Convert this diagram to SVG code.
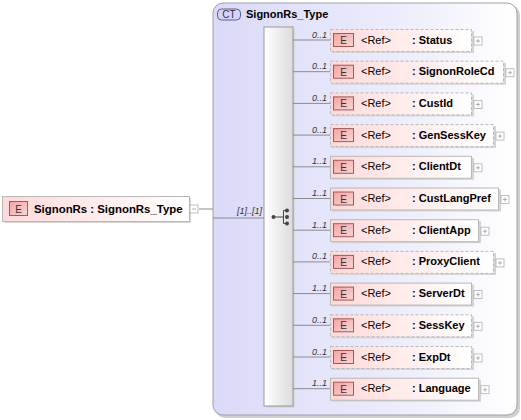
<svg xmlns="http://www.w3.org/2000/svg" width="521" height="420" viewBox="0 0 521 420">
<defs>
<linearGradient id="gEl" x1="0" y1="0" x2="1" y2="0"><stop offset="0" stop-color="#ffd9d9"/><stop offset="1" stop-color="#ffffff"/></linearGradient>
<linearGradient id="gBadge" x1="0" y1="0" x2="1" y2="1"><stop offset="0" stop-color="#f4a4a4"/><stop offset="1" stop-color="#fbd4d4"/></linearGradient>
<linearGradient id="gCT" x1="0" y1="0" x2="1" y2="0"><stop offset="0" stop-color="#dadaf8"/><stop offset="0.6" stop-color="#ececfc"/><stop offset="1" stop-color="#ffffff"/></linearGradient>
<linearGradient id="gSeq" x1="0" y1="0" x2="1" y2="0"><stop offset="0" stop-color="#ffffff"/><stop offset="1" stop-color="#dcdcdc"/></linearGradient>
<g id="plus"><rect x="0" y="-4" width="8" height="8" fill="#fff" stroke="#b0b0b0" stroke-width="0.8"/><path d="M2,0H6M4,-2V2" stroke="#a0a0a0" stroke-width="0.8"/></g>
<g id="minus"><rect x="0" y="-4" width="8" height="8" fill="#fff" stroke="#b0b0b0" stroke-width="0.8"/><path d="M2,0H6" stroke="#a0a0a0" stroke-width="0.8"/></g>
</defs>
<style>
.box{fill:url(#gEl);stroke:#b8b8b8;stroke-width:1}
.opt{stroke-dasharray:3,2}
.sh{fill:#d4d4d4}
.badge{fill:url(#gBadge);stroke:#a05a5a;stroke-width:1}
.bt{font:10px "Liberation Sans",Arial,sans-serif;fill:#333;text-anchor:middle}
.ref{font:11px "Liberation Sans",Arial,sans-serif;fill:#000}
.nm{font:bold 11px "Liberation Sans",Arial,sans-serif;fill:#000}
.mult{font:italic 9px "Liberation Sans",Arial,sans-serif;fill:#333;text-anchor:end}
.ln{stroke:#8c8c8c;stroke-width:1;fill:none}
</style>

<g id="SignonRs_Type">
<rect x="215" y="5" width="305" height="413" rx="10" fill="#d0d0d0"/>
<rect x="213" y="3" width="304" height="412" rx="10" fill="url(#gCT)" stroke="#a0a0a8" stroke-width="1"/>
<rect x="217.5" y="9" width="23" height="11" rx="4" fill="#d4d4fa" stroke="#5c5c96" stroke-width="1"/>
<text x="229" y="18" class="bt" style="fill:#333">CT</text>
<text x="246" y="17.5" class="nm">SignonRs_Type</text>
</g>

<g id="sequence">
<rect x="265.5" y="28.5" width="29" height="379" fill="#cfcfcf"/>
<rect x="264" y="27" width="29" height="379" fill="url(#gSeq)" stroke="#9a9a9a" stroke-width="1"/>
<g fill="#444" stroke="#444" stroke-width="1">
<circle cx="273.5" cy="217" r="2" stroke="none"/>
<path d="M273.5,217H284M283.5,210.5V223.5M283.5,210.5H287M283.5,223.5H287" fill="none"/>
<circle cx="287" cy="210.5" r="2" stroke="none"/>
<circle cx="287" cy="217" r="2" stroke="none"/>
<circle cx="287" cy="223.5" r="2" stroke="none"/>
</g>
</g>

<g id="connectors">
<path class="ln" d="M199,209H213M213,218H264"/>
<text x="262" y="213.5" class="mult">[1]..[1]</text>
<path class="ln" d="M293,40H330M293,71.7H330M293,103.4H330M293,135.1H330M293,166.8H330M293,198.5H330M293,230.2H330M293,261.9H330M293,293.6H330M293,325.3H330M293,357H330M293,388.7H330"/>
</g>

<g id="SignonRs">
<rect x="4" y="198" width="187" height="25" class="sh"/>
<rect x="2.5" y="196.5" width="187" height="25" class="box"/>
<rect x="9.5" y="201.5" width="18" height="14" class="badge"/>
<text x="18.5" y="212.5" class="bt">E</text>
<text x="34" y="213" class="nm" style="font-size:11.4px">SignonRs : SignonRs_Type</text>
<use href="#minus" x="190" y="209"/>
</g>

<g id="Status" transform="translate(0,29)">
<text x="327" y="8.5" class="mult">0..1</text>
<rect x="332" y="2" width="142" height="22" class="sh"/>
<rect x="330.5" y="0.5" width="141" height="22" class="box opt"/>
<rect x="333.5" y="4.5" width="20" height="13" class="badge"/><text x="343.5" y="15" class="bt">E</text>
<text x="361" y="14.5" class="ref">&lt;Ref&gt;</text><text x="412" y="14.5" class="nm">: Status</text>
<use href="#plus" x="474" y="12"/>
</g>
<g id="SignonRoleCd" transform="translate(0,60.7)">
<text x="327" y="8.5" class="mult">0..1</text>
<rect x="332" y="2" width="174" height="22" class="sh"/>
<rect x="330.5" y="0.5" width="173" height="22" class="box opt"/>
<rect x="333.5" y="4.5" width="20" height="13" class="badge"/><text x="343.5" y="15" class="bt">E</text>
<text x="361" y="14.5" class="ref">&lt;Ref&gt;</text><text x="412" y="14.5" class="nm">: SignonRoleCd</text>
<use href="#plus" x="506" y="12"/>
</g>
<g id="CustId" transform="translate(0,92.4)">
<text x="327" y="8.5" class="mult">0..1</text>
<rect x="332" y="2" width="142" height="22" class="sh"/>
<rect x="330.5" y="0.5" width="141" height="22" class="box opt"/>
<rect x="333.5" y="4.5" width="20" height="13" class="badge"/><text x="343.5" y="15" class="bt">E</text>
<text x="361" y="14.5" class="ref">&lt;Ref&gt;</text><text x="412" y="14.5" class="nm">: CustId</text>
<use href="#plus" x="474" y="12"/>
</g>
<g id="GenSessKey" transform="translate(0,124.1)">
<text x="327" y="8.5" class="mult">0..1</text>
<rect x="332" y="2" width="164" height="22" class="sh"/>
<rect x="330.5" y="0.5" width="163" height="22" class="box opt"/>
<rect x="333.5" y="4.5" width="20" height="13" class="badge"/><text x="343.5" y="15" class="bt">E</text>
<text x="361" y="14.5" class="ref">&lt;Ref&gt;</text><text x="412" y="14.5" class="nm">: GenSessKey</text>
<use href="#plus" x="496" y="12"/>
</g>
<g id="ClientDt" transform="translate(0,155.8)">
<text x="327" y="8.5" class="mult">1..1</text>
<rect x="332" y="2" width="142" height="22" class="sh"/>
<rect x="330.5" y="0.5" width="141" height="22" class="box"/>
<rect x="333.5" y="4.5" width="20" height="13" class="badge"/><text x="343.5" y="15" class="bt">E</text>
<text x="361" y="14.5" class="ref">&lt;Ref&gt;</text><text x="412" y="14.5" class="nm">: ClientDt</text>
<use href="#plus" x="474" y="12"/>
</g>
<g id="CustLangPref" transform="translate(0,187.5)">
<text x="327" y="8.5" class="mult">1..1</text>
<rect x="332" y="2" width="169" height="22" class="sh"/>
<rect x="330.5" y="0.5" width="168" height="22" class="box"/>
<rect x="333.5" y="4.5" width="20" height="13" class="badge"/><text x="343.5" y="15" class="bt">E</text>
<text x="361" y="14.5" class="ref">&lt;Ref&gt;</text><text x="412" y="14.5" class="nm">: CustLangPref</text>
<use href="#plus" x="501" y="12"/>
</g>
<g id="ClientApp" transform="translate(0,219.2)">
<text x="327" y="8.5" class="mult">1..1</text>
<rect x="332" y="2" width="149" height="22" class="sh"/>
<rect x="330.5" y="0.5" width="148" height="22" class="box"/>
<rect x="333.5" y="4.5" width="20" height="13" class="badge"/><text x="343.5" y="15" class="bt">E</text>
<text x="361" y="14.5" class="ref">&lt;Ref&gt;</text><text x="412" y="14.5" class="nm">: ClientApp</text>
<use href="#plus" x="481" y="12"/>
</g>
<g id="ProxyClient" transform="translate(0,250.9)">
<text x="327" y="8.5" class="mult">0..1</text>
<rect x="332" y="2" width="164" height="22" class="sh"/>
<rect x="330.5" y="0.5" width="163" height="22" class="box opt"/>
<rect x="333.5" y="4.5" width="20" height="13" class="badge"/><text x="343.5" y="15" class="bt">E</text>
<text x="361" y="14.5" class="ref">&lt;Ref&gt;</text><text x="412" y="14.5" class="nm">: ProxyClient</text>
<use href="#plus" x="496" y="12"/>
</g>
<g id="ServerDt" transform="translate(0,282.6)">
<text x="327" y="8.5" class="mult">1..1</text>
<rect x="332" y="2" width="142" height="22" class="sh"/>
<rect x="330.5" y="0.5" width="141" height="22" class="box"/>
<rect x="333.5" y="4.5" width="20" height="13" class="badge"/><text x="343.5" y="15" class="bt">E</text>
<text x="361" y="14.5" class="ref">&lt;Ref&gt;</text><text x="412" y="14.5" class="nm">: ServerDt</text>
<use href="#plus" x="474" y="12"/>
</g>
<g id="SessKey" transform="translate(0,314.3)">
<text x="327" y="8.5" class="mult">0..1</text>
<rect x="332" y="2" width="142" height="22" class="sh"/>
<rect x="330.5" y="0.5" width="141" height="22" class="box opt"/>
<rect x="333.5" y="4.5" width="20" height="13" class="badge"/><text x="343.5" y="15" class="bt">E</text>
<text x="361" y="14.5" class="ref">&lt;Ref&gt;</text><text x="412" y="14.5" class="nm">: SessKey</text>
<use href="#plus" x="474" y="12"/>
</g>
<g id="ExpDt" transform="translate(0,346)">
<text x="327" y="8.5" class="mult">0..1</text>
<rect x="332" y="2" width="142" height="22" class="sh"/>
<rect x="330.5" y="0.5" width="141" height="22" class="box opt"/>
<rect x="333.5" y="4.5" width="20" height="13" class="badge"/><text x="343.5" y="15" class="bt">E</text>
<text x="361" y="14.5" class="ref">&lt;Ref&gt;</text><text x="412" y="14.5" class="nm">: ExpDt</text>
<use href="#plus" x="474" y="12"/>
</g>
<g id="Language" transform="translate(0,377.7)">
<text x="327" y="8.5" class="mult">1..1</text>
<rect x="332" y="2" width="149" height="22" class="sh"/>
<rect x="330.5" y="0.5" width="148" height="22" class="box"/>
<rect x="333.5" y="4.5" width="20" height="13" class="badge"/><text x="343.5" y="15" class="bt">E</text>
<text x="361" y="14.5" class="ref">&lt;Ref&gt;</text><text x="412" y="14.5" class="nm">: Language</text>
<use href="#plus" x="481" y="12"/>
</g>
</svg>
